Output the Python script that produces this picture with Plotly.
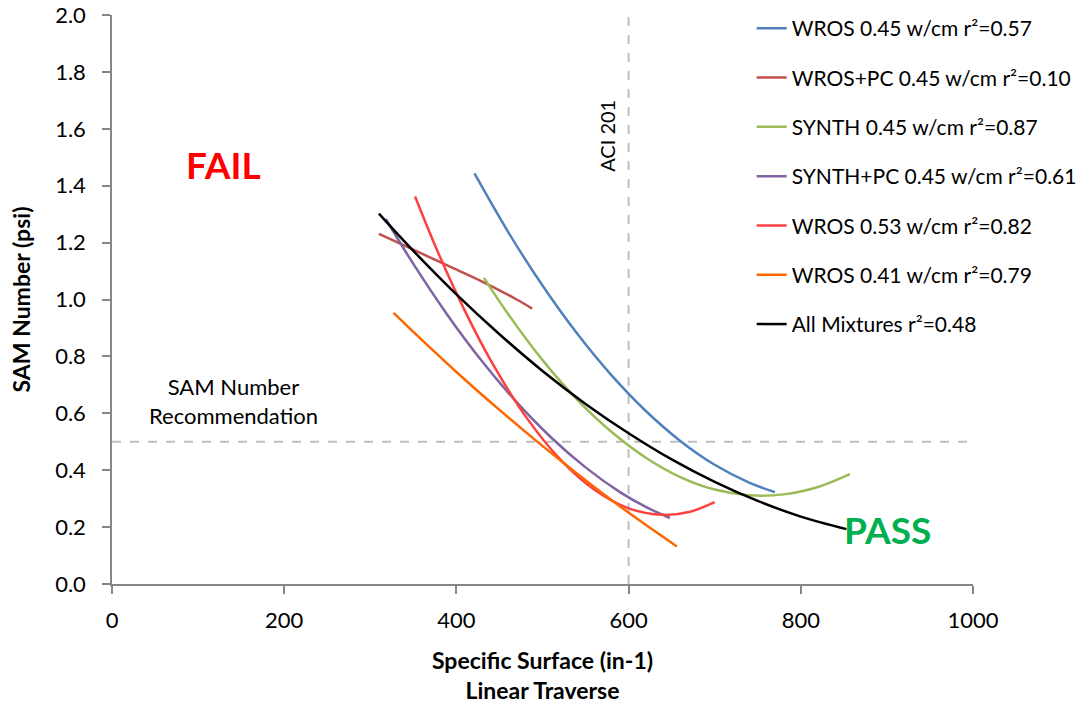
import plotly.graph_objects as go

# ---- data (trendline points) ----
names = [
    "WROS 0.45 w/cm r²=0.57",
    "WROS+PC 0.45 w/cm r²=0.10",
    "SYNTH 0.45 w/cm r²=0.87",
    "SYNTH+PC 0.45 w/cm r²=0.61",
    "WROS 0.53 w/cm r²=0.82",
    "WROS 0.41 w/cm r²=0.79",
    "All Mixtures r²=0.48",
]
colors = ["#4F81BD", "#C0504D", "#9BBB59", "#8064A2", "#FF4040", "#FF6600", "#000000"]

wros045_x = [421, 460, 500, 540, 580, 620, 660, 700, 740, 770]
wros045_y = [1.443, 1.238, 1.049, 0.881, 0.734, 0.608, 0.503, 0.419, 0.356, 0.323]

wrospc_x = [310, 350, 390, 430, 470, 488]
wrospc_y = [1.231, 1.175, 1.119, 1.063, 1.000, 0.968]

synth_x = [432, 460, 500, 540, 580, 620, 660, 700, 740, 780, 820, 857]
synth_y = [1.076, 0.949, 0.787, 0.649, 0.535, 0.444, 0.376, 0.332, 0.312, 0.315, 0.341, 0.386]

synthpc_x = [318, 350, 390, 430, 470, 510, 550, 590, 620, 648]
synthpc_y = [1.283, 1.125, 0.944, 0.782, 0.639, 0.515, 0.410, 0.323, 0.271, 0.232]

wros053_x = [352, 380, 410, 440, 480, 520, 560, 600, 640, 670, 700]
wros053_y = [1.362, 1.156, 0.959, 0.785, 0.591, 0.440, 0.332, 0.266, 0.243, 0.253, 0.288]

wros041_x = [327, 370, 410, 450, 490, 530, 570, 610, 656]
wros041_y = [0.953, 0.829, 0.718, 0.612, 0.510, 0.412, 0.318, 0.229, 0.132]

all_x = [310, 350, 400, 450, 500, 550, 600, 650, 700, 750, 800, 853]
all_y = [1.302, 1.171, 1.018, 0.878, 0.749, 0.633, 0.530, 0.438, 0.359, 0.292, 0.237, 0.193]

series_x = [wros045_x, wrospc_x, synth_x, synthpc_x, wros053_x, wros041_x, all_x]
series_y = [wros045_y, wrospc_y, synth_y, synthpc_y, wros053_y, wros041_y, all_y]

sam_limit = 0.5
aci_limit = 600
x_ticks = [0, 200, 400, 600, 800, 1000]
y_ticks = [0.0, 0.2, 0.4, 0.6, 0.8, 1.0, 1.2, 1.4, 1.6, 1.8, 2.0]

FONT = "Lato"

fig = go.Figure()

# reference dashed lines (drawn as traces below curves)
fig.add_trace(go.Scatter(x=[0, 1000], y=[sam_limit, sam_limit], mode="lines",
                         line=dict(color="#BFBFBF", width=2, dash="dash"),
                         showlegend=False, hoverinfo="skip"))
fig.add_trace(go.Scatter(x=[aci_limit, aci_limit], y=[0, 2.0], mode="lines",
                         line=dict(color="#BFBFBF", width=2, dash="dash"),
                         showlegend=False, hoverinfo="skip"))

for i, (n, c, xs, ys) in enumerate(zip(names, colors, series_x, series_y)):
    fig.add_trace(go.Scatter(
        x=xs, y=ys, mode="lines", name=n, legendgroup=f"g{i}",
        line=dict(color=c, width=2.5, shape="spline", smoothing=1.0),
    ))

axis_common = dict(
    showline=True, linecolor="#878787", linewidth=1.5,
    ticks="outside", ticklen=8, tickcolor="#878787", tickwidth=1.5,
    showgrid=False, zeroline=False,
    tickfont=dict(family=FONT, size=22, color="#000000"),
)

fig.update_layout(
    width=1080, height=706,
    margin=dict(l=112, r=107, t=15, b=122, autoexpand=False),
    paper_bgcolor="white", plot_bgcolor="white",
    font=dict(family=FONT, color="#000000"),
    xaxis=dict(range=[0, 1000], tickvals=x_ticks, ticklabelstandoff=8, **axis_common,
               title=dict(text="<b>Specific Surface (in-1)<br>Linear Traverse</b>",
                          font=dict(family=FONT, size=23), standoff=21)),
    yaxis=dict(range=[0, 2.0], tickvals=y_ticks, tickformat=".1f", ticklabelstandoff=12,
               **axis_common,
               title=dict(text="<b>SAM Number (psi)</b>",
                          font=dict(family=FONT, size=23), standoff=18)),
    legend=dict(
        xref="container", yref="container",
        x=0.696, y=0.9885, xanchor="left", yanchor="top",
        font=dict(family=FONT, size=21, color="#000000"),
        traceorder="grouped", tracegroupgap=19,
        bgcolor="rgba(0,0,0,0)",
    ),
    showlegend=True,
)

fig.add_annotation(x=129, y=1.474, xref="x", yref="y", text="<b>FAIL</b>",
                   showarrow=False, font=dict(family=FONT, size=37, color="#FF0000"))
fig.add_annotation(x=901, y=0.19, xref="x", yref="y", text="<b>PASS</b>",
                   showarrow=False, font=dict(family=FONT, size=37, color="#00B050"))
fig.add_annotation(x=141, y=0.643, xref="x", yref="y",
                   text="SAM Number<br>Recommendation",
                   showarrow=False, font=dict(family=FONT, size=22, color="#000000"))
fig.add_annotation(x=574, y=1.576, xref="x", yref="y", text="ACI 201",
                   textangle=-90, showarrow=False,
                   font=dict(family=FONT, size=20, color="#000000"))

fig.write_html("out.html")
